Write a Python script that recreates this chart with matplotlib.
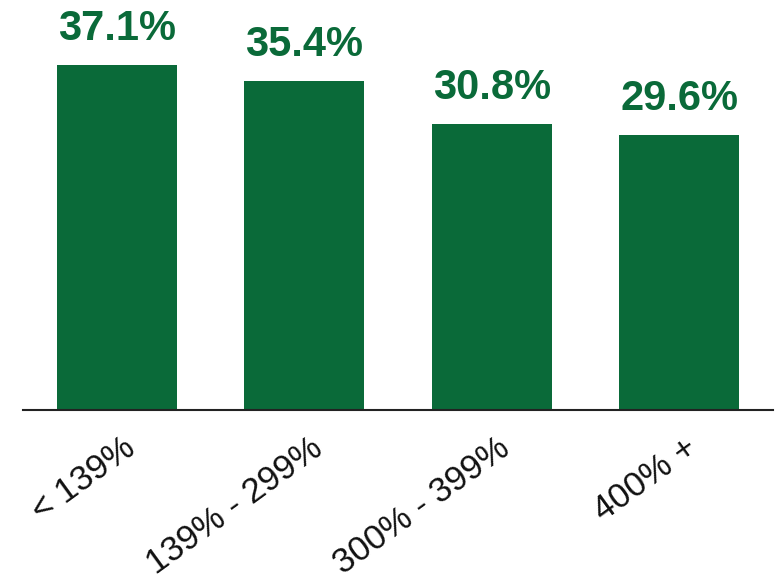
import matplotlib
matplotlib.use("Agg")
import matplotlib.pyplot as plt
from matplotlib import transforms

plt.rcParams['font.family'] = ['Liberation Sans', 'DejaVu Sans']

categories = ['< 139%', '139% - 299%', '300% - 399%', '400% +']
values = [37.1, 35.4, 30.8, 29.6]
labels = ['37.1%', '35.4%', '30.8%', '29.6%']

green = '#0a6a39'

fig = plt.figure(figsize=(7.77, 5.80), dpi=100)
ax = fig.add_axes([23 / 777, 170 / 580, 750 / 777, 410 / 580])

x = range(len(values))
bars = ax.bar(x, values, width=0.64, color=green, zorder=2)

for b, lab in zip(bars, labels):
    ax.annotate(lab, (b.get_x() + b.get_width() / 2, b.get_height()),
                xytext=(0, 18), textcoords='offset points',
                ha='center', va='baseline', fontsize=30, fontweight='bold',
                color=green)

ax.set_xlim(-0.5, 3.5)
ax.set_ylim(0, 44.1)

for s in ['top', 'right', 'left']:
    ax.spines[s].set_visible(False)
ax.spines['bottom'].set_color('#222222')
ax.spines['bottom'].set_linewidth(1.5)
ax.set_yticks([])
ax.tick_params(axis='x', length=0, pad=0)
ax.set_xticks(list(x))
ax.set_xticklabels(categories, rotation=36, ha='right', va='top',
                   rotation_mode='anchor', fontsize=25, color='#111111')

shift = transforms.ScaledTranslation(5 / 100, -21 / 100, fig.dpi_scale_trans)
for t in ax.get_xticklabels():
    t.set_transform(t.get_transform() + shift)

fig.savefig('out.png', dpi=100)
